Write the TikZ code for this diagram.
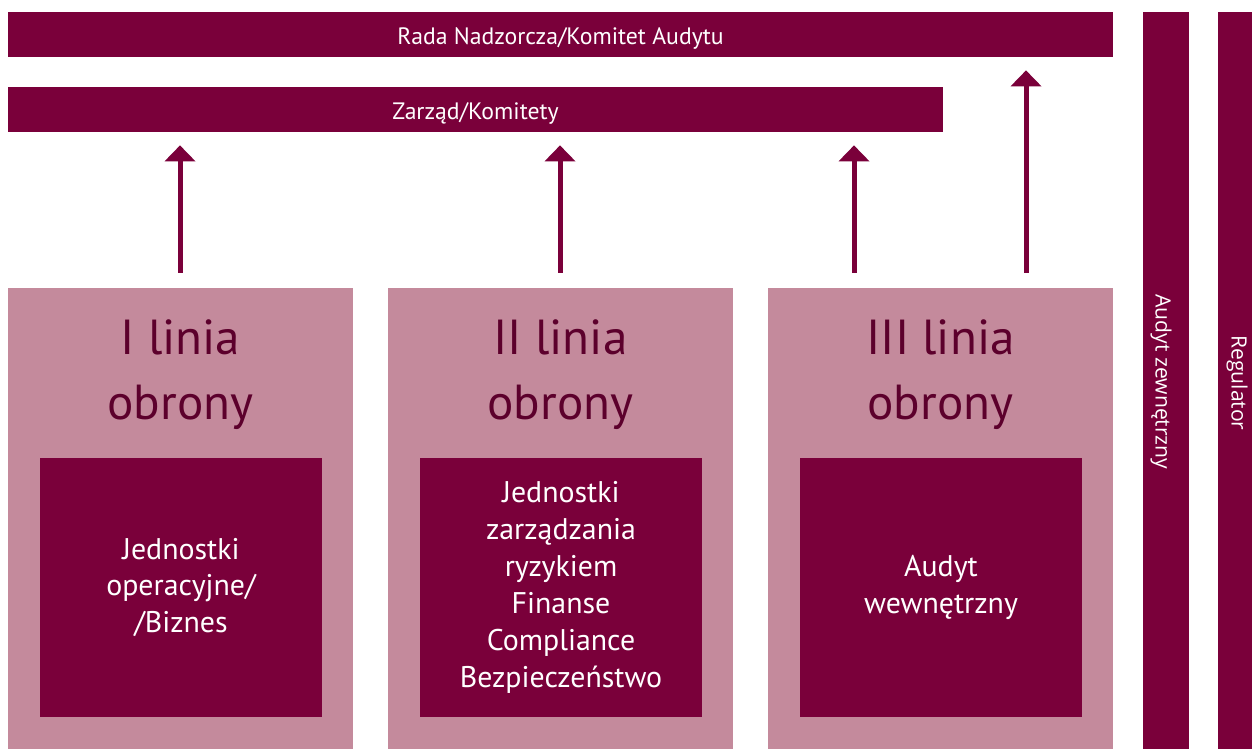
\documentclass[tikz,border=0pt]{standalone}
\usepackage{fontspec}
\setmainfont{PT Sans}
\newfontfamily\sidefont{Open Sans}
\definecolor{wine}{RGB}{122, 0, 58}
\definecolor{winelight}{RGB}{196, 138, 156}
\definecolor{winedark}{RGB}{92, 0, 44}
\usetikzlibrary{arrows.meta, positioning, calc}

\begin{document}
\begin{tikzpicture}[
  bar/.style={fill=wine, text=white, minimum height=0.9cm, inner sep=0pt, text height=2.2ex, text depth=0pt,
    font=\fontsize{13.5}{15}\selectfont},
  sidebar/.style={fill=wine, text=white, inner sep=0pt, minimum height=14.74cm},
  linebox/.style={fill=winelight, minimum width=6.9cm, minimum height=9.22cm, inner sep=0pt},
  unitbox/.style={fill=wine, text=white, minimum width=5.64cm, minimum height=5.18cm, inner sep=0pt,
    align=center, font=\fontsize{17}{21}\selectfont},
  heading/.style={text=winedark, align=center, font=\fontsize{28}{37}\selectfont},
  sidetext/.style={text=white, rotate=-90, font=\sidefont\fontsize{12}{14}\selectfont},
  uparrow/.style={draw=wine, line width=0.1cm, -{Triangle[width=0.6cm, length=0.32cm]},
    shorten <=0.3cm, shorten >=0.26cm}
]
  \useasboundingbox (0,0) rectangle (25.04,14.98);

  % oversight bars
  \node[bar, minimum width=22.1cm] (rada) at (11.21, 14.29) {Rada Nadzorcza/Komitet Audytu};
  \node[bar, minimum width=18.7cm] (zarzad) at (9.51, 12.79) {Zarząd/Komitety};

  % external bars
  \node[sidebar, minimum width=0.92cm] (zewn) at (23.32, 7.37) {};
  \node[sidebar, minimum width=0.68cm] (regul) at (24.70, 7.37) {};
  \node[sidetext] at (23.22, 7.34) {Audyt zewnętrzny};
  \node[sidetext] at (24.74, 7.32) {Regulator};

  % three lines of defence
  \node[linebox] (l1) at (3.61, 4.61) {};
  \node[linebox] (l2) at (11.21, 4.61) {};
  \node[linebox] (l3) at (18.81, 4.61) {};

  \node[heading] (h1) at (3.61, 7.48) {I linia\\obrony};
  \node[heading] (h2) at (11.21, 7.48) {II linia\\obrony};
  \node[heading] (h3) at (18.81, 7.48) {III linia\\obrony};

  \node[unitbox] (u1) at (3.62, 3.23) {Jednostki\\operacyjne/\\/Biznes};
  \node[unitbox] (u2) at (11.22, 3.23) {Jednostki\\zarządzania\\ryzykiem\\Finanse\\Compliance\\Bezpieczeństwo};
  \node[unitbox] (u3) at (18.82, 3.23) {Audyt\\wewnętrzny};

  % reporting arrows
  \draw[uparrow] ([xshift=-0.01cm]l1.north) -- ([xshift=-0.01cm]l1.north |- zarzad.south);
  \draw[uparrow] ([xshift=-0.01cm]l2.north) -- ([xshift=-0.01cm]l2.north |- zarzad.south);
  \draw[uparrow] ([xshift=-1.73cm]l3.north) -- ([xshift=-1.73cm]l3.north |- zarzad.south);
  \draw[uparrow] ([xshift=1.71cm]l3.north) -- ([xshift=1.71cm]l3.north |- rada.south);
\end{tikzpicture}
\end{document}
